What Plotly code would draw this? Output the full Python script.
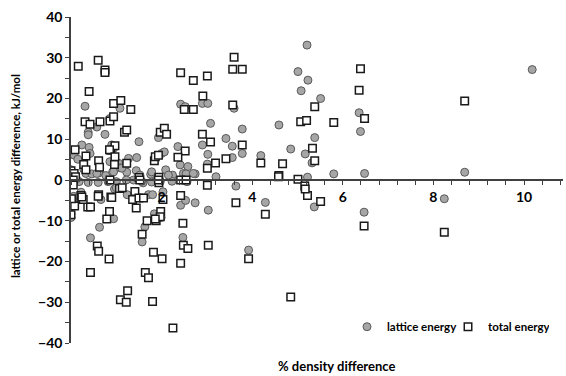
import plotly.graph_objects as go

lattice_x = [0.31,0.57,0.38,0.38,0.75,1.08,0.86,0.24,0.40,0.42,0.07,0.15,0.28,0.33,0.38,0.60,0.61,0.77,0.82,0.86,
             0.90,0.94,0.92,0.97,1.05,1.08,1.19,1.27,1.23,1.38,1.22,1.45,1.50,1.44,1.59,1.76,1.93,2.00,2.06,2.09,
             2.24,2.36,2.42,2.52,2.41,2.58,2.48,2.54,2.74,2.90,3.02,2.90,3.08,3.02,3.01,3.20,3.42,3.56,3.56,3.60,
             3.78,3.78,3.64,4.19,4.59,0.00,5.21,5.01,5.23,5.08,5.51,5.38,4.85,5.17,5.32,5.22,5.80,6.36,6.39,6.48,
             8.69,10.18,5.37,6.47,8.24,0.00,0.00,0.43,0.63,0.66,0.94,0.96,1.24,1.41,1.71,1.80,2.03,1.57,1.63,1.84,
             1.99,2.47,2.42,2.53,2.74,3.03,3.92,4.29,0.18,1.00,1.56,1.78,1.97,2.23,2.56,1.00,0.06,0.46,0.57,0.94,
             1.12,1.52,1.78,2.15,2.70,0.12,0.22]
lattice_y = [18.1,13.0,11.7,11.1,11.2,17.6,15.1,8.6,8.0,6.5,6.1,5.1,2.7,1.6,-0.6,-0.6,1.7,1.1,-0.4,4.5,
             8.6,7.8,2.0,3.1,4.1,3.0,3.0,5.3,1.9,0.0,0.0,5.5,9.4,2.3,-0.7,1.4,10.4,6.5,6.9,2.5,
             1.2,8.2,18.6,18.0,3.7,3.3,1.6,1.5,1.5,18.8,18.8,8.6,13.9,6.3,3.9,0.8,10.2,8.3,5.5,17.6,
             12.5,6.5,-1.5,6.0,13.5,2.5,33.1,26.6,24.5,21.9,20.0,10.4,7.6,6.4,4.2,0.7,1.5,16.5,11.9,1.6,
             1.9,27.1,-6.6,-7.9,-4.6,-9.2,-8.3,-14.2,-11.6,-4.8,-9.5,-2.2,-3.6,-3.6,-3.6,-3.6,-2.9,-15.2,-11.5,-8.3,
             -9.2,-14.1,-6.2,-5.0,-5.6,-7.4,-17.2,-5.5,-0.4,-0.4,-0.3,-0.5,-0.4,-0.3,-0.4,-1.9,-4.0,1.5,1.6,2.0,
             2.9,1.2,2.0,1.2,1.6,0.3,-3.0]

total_x = [0.16,0.60,0.75,0.75,0.40,0.31,0.42,0.64,0.86,0.94,0.94,1.10,1.32,1.18,1.23,0.88,0.97,0.09,0.33,0.28,
           0.61,0.63,0.00,0.07,0.10,0.33,0.85,0.97,0.96,1.23,1.50,1.97,2.06,2.11,1.84,1.86,1.93,1.94,1.94,2.42,
           2.70,3.01,2.91,2.50,2.70,2.90,3.08,2.52,2.36,3.01,3.19,2.42,2.54,3.60,3.57,3.78,3.57,3.78,3.42,4.19,
           4.67,4.59,3.01,6.39,6.36,5.38,5.07,5.20,5.80,6.48,5.33,5.38,5.01,5.16,8.69,5.22,5.17,5.51,6.47,8.24,
           4.85,1.25,1.09,1.22,1.80,2.25,0.43,1.64,1.71,0.84,0.58,0.61,1.82,2.01,2.42,2.48,2.58,3.03,3.92,4.29,
           3.64,2.47,1.57,1.68,1.88,1.98,0.79,0.85,0.37,0.43,0.07,0.08,0.27,0.22,0.01,0.61,0.88,1.07,1.41,1.36,
           1.44,1.50,1.60,2.03,2.42,0.00,0.05,0.86,1.52,1.93,0.05,0.24,0.60,0.90,1.13,1.97,1.86,4.58]
total_y = [27.9,29.4,27.0,26.4,21.7,14.3,13.7,14.3,14.5,15.5,18.8,19.5,17.3,11.7,12.3,7.3,8.4,7.4,5.9,3.8,
           4.7,3.1,2.3,1.6,0.8,2.5,7.4,5.7,3.8,4.1,0.6,11.7,12.7,11.2,4.7,5.7,6.1,0.7,-0.7,26.3,
           24.4,25.5,20.6,17.3,17.3,11.2,9.3,7.1,5.6,2.9,4.2,0.0,0.0,30.1,27.2,27.2,18.4,8.6,5.2,4.2,
           4.0,1.1,-1.3,27.3,22.0,18.0,14.3,14.6,14.1,15.1,7.8,4.7,0.2,-1.5,19.4,-3.8,-2.2,-5.3,-11.3,-12.8,
           -28.7,-27.2,-29.4,-30.0,-29.8,-36.3,-22.7,-22.7,-24.0,-19.4,-16.2,-17.5,-17.7,-19.3,-20.4,-16.0,-16.8,-16.0,-19.3,-8.4,
           -5.6,-10.6,-13.3,-10.0,-10.0,-7.7,-9.6,-7.7,-6.6,-6.6,-6.1,-6.4,-4.8,-3.8,-4.6,-3.6,-4.2,-2.1,-2.8,-4.8,
           -6.9,-4.4,-4.4,-4.8,-3.8,-8.5,0.0,0.0,0.0,0.0,-1.2,-4.2,-4.0,-4.3,-1.9,-9.0,-9.6,0.8]

x_tick_vals = [2, 4, 6, 8, 10]
x_tick_text = ["2", "4", "6", "8", "10"]
y_tick_vals = [-40, -30, -20, -10, 0, 10, 20, 30, 40]

FONT = "Lato"

fig = go.Figure()
fig.add_trace(go.Scatter(
    x=lattice_x, y=lattice_y, mode="markers", name="lattice energy",
    marker=dict(symbol="circle", size=8, color="#A6A6A6", line=dict(color="#595959", width=1)),
))
fig.add_trace(go.Scatter(
    x=total_x, y=total_y, mode="markers", name="total energy",
    marker=dict(symbol="square", size=7.5, color="white", line=dict(color="#1a1a1a", width=1.5)),
))

fig.update_layout(
    width=566, height=376,
    autosize=False,
    margin=dict(l=71, r=3, t=17, b=33, autoexpand=False),
    paper_bgcolor="white", plot_bgcolor="white",
    font=dict(family=FONT, size=13, color="black"),
    showlegend=True,
    legend=dict(orientation="h", x=0.561, y=0.05, xanchor="left", yanchor="middle",
                font=dict(family=FONT, size=11.5, color="black", weight="bold"),
                bgcolor="rgba(0,0,0,0)", itemwidth=30, tracegroupgap=0,
                entrywidth=56, entrywidthmode="pixels"),
    xaxis=dict(range=[0, 10.86], autorange=False, anchor="free", position=0.5,
               domain=[0, 1], automargin=False,
               showline=True, linecolor="#404040", linewidth=1.5,
               ticks="outside", ticklen=4, tickcolor="#404040", tickwidth=1,
               tickmode="array", tickvals=x_tick_vals, ticktext=x_tick_text,
               tickfont=dict(family=FONT, size=14, color="black", weight="bold"),
               minor=dict(dtick=0.4, tick0=0, ticks="outside", ticklen=4, tickcolor="#404040", tickwidth=1),
               showgrid=False, zeroline=False),
    yaxis=dict(range=[-40, 40], autorange=False, automargin=False,
               showline=True, linecolor="#404040", linewidth=1.5,
               ticks="outside", ticklen=4, tickcolor="#404040", tickwidth=1,
               tickmode="array", tickvals=y_tick_vals,
               tickfont=dict(family=FONT, size=14, color="black", weight="bold"),
               minor=dict(dtick=5, tick0=0, ticks="outside", ticklen=4, tickcolor="#404040", tickwidth=1),
               showgrid=False, zeroline=False),
    annotations=[
        dict(text="lattice or total energy difference, kJ/mol", xref="paper", yref="paper",
             x=-0.114, y=0.512, xanchor="center", yanchor="middle", textangle=-90, showarrow=False,
             font=dict(family=FONT, size=11.5, color="black", weight="bold")),
        dict(text="% density difference", xref="paper", yref="paper",
             x=0.54, y=-0.07, xanchor="center", yanchor="middle", showarrow=False,
             font=dict(family=FONT, size=13, color="black", weight="bold")),
    ],
)

fig.write_html("out.html", config={"displayModeBar": False},
               post_script="document.body.style.margin='0';document.body.style.padding='0';")
